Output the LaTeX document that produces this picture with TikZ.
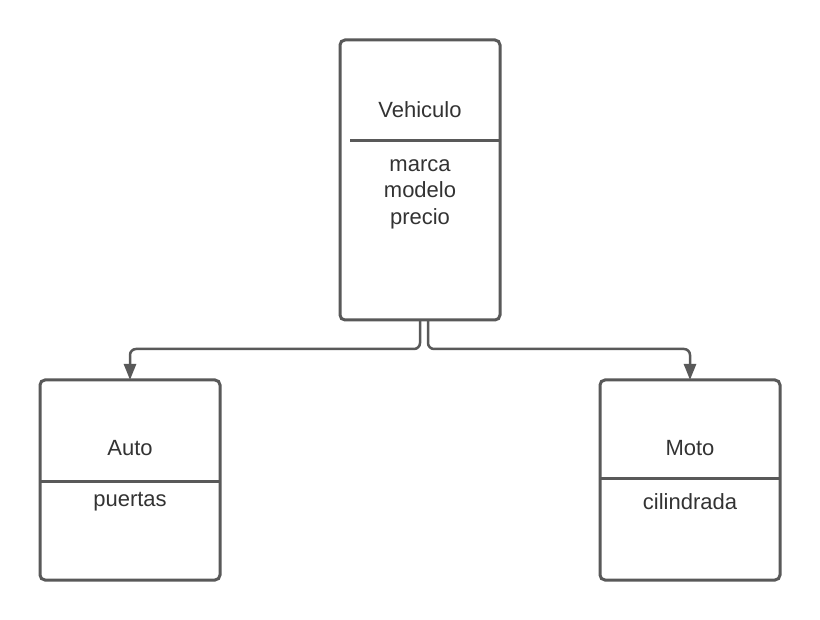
\documentclass[tikz,border=0pt]{standalone}
\usepackage{fontspec}
\setmainfont{Liberation Sans}
\usetikzlibrary{arrows.meta}
\definecolor{ln}{HTML}{595959}
\definecolor{tx}{HTML}{333333}
\begin{document}
\begin{tikzpicture}[x=1pt,y=-1pt,
  cls/.style={draw=ln,line width=3pt,rounded corners=5pt,fill=white},
  sep/.style={draw=ln,line width=3pt},
  lbl/.style={text=tx,font=\fontsize{22}{26.5}\selectfont,align=center,inner sep=0pt},
  conn/.style={draw=ln,line width=2.5pt,rounded corners=6pt,-{Triangle[length=16pt,width=12pt]}}]
\useasboundingbox[fill=white] (0,0) rectangle (820,620);
% boxes
\draw[cls] (340,40) rectangle (500,320);
\draw[sep] (350,141) -- (500,141);
\draw[cls] (40,380) rectangle (220,580);
\draw[sep] (40,481) -- (220,481);
\draw[cls] (600,380) rectangle (780,580);
\draw[sep] (600,478) -- (780,478);
% named anchors
\coordinate (vl) at (420,320);
\coordinate (vr) at (428,320);
\coordinate (at) at (130,380);
\coordinate (mt) at (690,380);
% texts
\node[lbl] (vn) at (420,110) {Vehiculo};
\node[lbl] (va) at (420,194) {marca\\modelo\\precio};
\node[lbl] (an) at (130,448) {Auto};
\node[lbl] (aa) at (130,502) {puertas};
\node[lbl] (mn) at (690,448) {Moto};
\node[lbl] (ma) at (690,502) {cilindrada};
% connectors
\draw[conn] (vl) -- (420,349) -- (130,349) -- (at);
\draw[conn] (vr) -- (428,349) -- (690,349) -- (mt);
\end{tikzpicture}
\end{document}
